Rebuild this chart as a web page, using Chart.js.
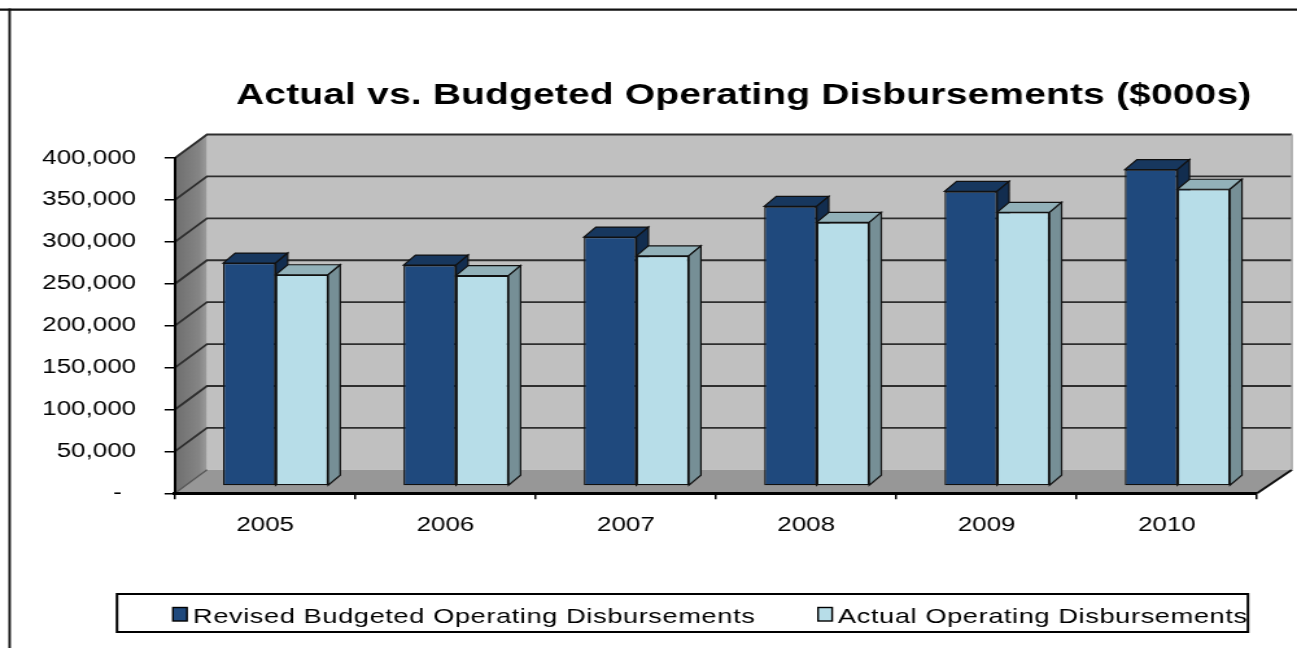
<!DOCTYPE html>
<html>
<head>
<meta charset="utf-8">
<script src="https://cdn.jsdelivr.net/npm/chart.js@4.4.1/dist/chart.umd.min.js"></script>
<style>
  html, body { margin: 0; padding: 0; background: #ffffff; overflow: hidden; }
  #chart { display: block; }
</style>
</head>
<body>
<canvas id="chart" width="1000" height="648" style="width:1297px;height:648px;"></canvas>
<script>
// ---- data ----
const categories = ['2005', '2006', '2007', '2008', '2009', '2010'];
const budgetedValues = [266000, 263500, 297000, 333500, 351500, 377500];
const actualValues = [252000, 251000, 274500, 314400, 326500, 354000];
const seriesLabels = ['Revised Budgeted Operating Disbursements', 'Actual Operating Disbursements'];
const chartTitle = 'Actual vs. Budgeted Operating Disbursements ($000s)';
const yMin = 0, yMax = 400000, yStep = 50000;

// ---- look ----
const FONT = "'Liberation Sans', Arial, Helvetica, sans-serif";
const frontColors = ['#1f497d', '#b7dde8'];
const topColors = ['#17375e', '#92b1b9'];
const sideColors = ['#122d4f', '#768f96'];

// depth geometry (canvas units; the canvas is widened to 1297px on screen)
const WALL_DX_LEFT = 24.7, WALL_DX_RIGHT = 26.9, WALL_DY = -23.5;
const BAR_SHIFT_X = 8.1, BAR_SHIFT_Y = -7.3;
const BAR_DX = 9.3, BAR_DY = -10;

function poly(ctx, pts, fill, stroke, lw) {
  ctx.beginPath();
  ctx.moveTo(pts[0][0], pts[0][1]);
  for (let i = 1; i < pts.length; i++) ctx.lineTo(pts[i][0], pts[i][1]);
  ctx.closePath();
  if (fill) { ctx.fillStyle = fill; ctx.fill(); }
  if (stroke) { ctx.strokeStyle = stroke; ctx.lineWidth = lw || 1; ctx.stroke(); }
}

const depthPlugin = {
  id: 'depth3d',
  beforeDraw(chart) {
    const ctx = chart.ctx;
    const a = chart.chartArea;
    const ys = chart.scales.y;
    const L = a.left, R = a.right, T = a.top, B = a.bottom;
    const bl = L + WALL_DX_LEFT, br = R + WALL_DX_RIGHT;
    ctx.save();

    // outer frame
    ctx.strokeStyle = '#111';
    ctx.lineWidth = 2.4;
    ctx.beginPath(); ctx.moveTo(0, 9.6); ctx.lineTo(1000, 9.6); ctx.stroke();
    ctx.lineWidth = 1.9;
    ctx.beginPath(); ctx.moveTo(7.4, 8.4); ctx.lineTo(7.4, 648); ctx.stroke();

    // back wall
    poly(ctx, [[bl, T + WALL_DY], [br, T + WALL_DY], [br, B + WALL_DY], [bl, B + WALL_DY]], '#c0c0c0');
    // floor
    poly(ctx, [[L, B], [R, B], [br, B + WALL_DY], [bl, B + WALL_DY]], '#979797');
    // side wall
    const g = ctx.createLinearGradient(L, 0, bl, 0);
    g.addColorStop(0, '#6e6e6e');
    g.addColorStop(0.75, '#858585');
    g.addColorStop(1, '#9c9c9c');
    poly(ctx, [[L, T], [bl, T + WALL_DY], [bl, B + WALL_DY], [L, B]], g);

    // gridlines across side wall and back wall
    ctx.lineCap = 'butt';
    for (let v = yMin + yStep; v <= yMax; v += yStep) {
      const y = ys.getPixelForValue(v);
      ctx.strokeStyle = '#2e2e2e';
      ctx.lineWidth = 1.8;
      ctx.beginPath();
      ctx.moveTo(L, y); ctx.lineTo(bl, y + WALL_DY); ctx.lineTo(br, y + WALL_DY);
      ctx.stroke();
    }
    // floor edges
    ctx.strokeStyle = '#555';
    ctx.lineWidth = 1.2;
    ctx.beginPath(); ctx.moveTo(L, B); ctx.lineTo(bl, B + WALL_DY); ctx.stroke();
    ctx.strokeStyle = '#111';
    ctx.lineWidth = 2;
    ctx.beginPath(); ctx.moveTo(R, B); ctx.lineTo(br, B + WALL_DY); ctx.stroke();
    // back wall right edge
    ctx.strokeStyle = '#a8a8a8';
    ctx.lineWidth = 1.5;
    ctx.beginPath(); ctx.moveTo(br, T + WALL_DY); ctx.lineTo(br, B + WALL_DY); ctx.stroke();
    ctx.restore();
  },
  beforeDatasetDraw() {
    // bars are painted together below so the clusters overlap correctly
    return false;
  },
  afterDatasetsDraw(chart) {
    const ctx = chart.ctx;
    const metas = [chart.getDatasetMeta(0), chart.getDatasetMeta(1)];
    ctx.save();
    ctx.translate(BAR_SHIFT_X, BAR_SHIFT_Y);
    for (let i = 0; i < categories.length; i++) {
      metas.forEach((meta, d) => {
        const el = meta.data[i];
        el.draw(ctx, chart.chartArea);
        const p = el.getProps(['x', 'y', 'base', 'width'], true);
        const l = p.x - p.width / 2, r = p.x + p.width / 2;
        poly(ctx, [[l, p.y], [r, p.y], [r + BAR_DX, p.y + BAR_DY], [l + BAR_DX, p.y + BAR_DY]], topColors[d], '#111', 1.2);
        poly(ctx, [[r, p.y], [r + BAR_DX, p.y + BAR_DY], [r + BAR_DX, p.base + BAR_DY], [r, p.base]], sideColors[d], '#111', 1.2);
      });
    }
    ctx.restore();
  },
  afterDraw(chart) {
    const ctx = chart.ctx;
    ctx.save();
    // title
    ctx.fillStyle = '#000';
    ctx.font = 'bold 30px ' + FONT;
    ctx.textAlign = 'left';
    ctx.textBaseline = 'alphabetic';
    if ('letterSpacing' in ctx) ctx.letterSpacing = '0.15px';
    ctx.fillText(chartTitle, 182, 104);

    // legend
    ctx.strokeStyle = '#000';
    ctx.lineWidth = 2;
    ctx.strokeRect(90.2, 594, 872, 38);
    ctx.font = '21px ' + FONT;
    if ('letterSpacing' in ctx) ctx.letterSpacing = '0.45px';
    const items = [{ box: 133.3, text: 148.8 }, { box: 630.7, text: 646.1 }];
    chart.data.datasets.forEach((ds, d) => {
      ctx.fillStyle = ds.backgroundColor;
      ctx.fillRect(items[d].box, 607.5, 10.9, 13.5);
      ctx.strokeStyle = '#000';
      ctx.lineWidth = 1.4;
      ctx.strokeRect(items[d].box, 607.5, 10.9, 13.5);
      ctx.fillStyle = '#000';
      ctx.fillText(ds.label, items[d].text, 622.5);
    });
    ctx.restore();
  }
};

const canvasEl = document.getElementById('chart');
new Chart(canvasEl, {
  type: 'bar',
  data: {
    labels: categories,
    datasets: [
      { label: seriesLabels[0], data: budgetedValues, backgroundColor: frontColors[0] },
      { label: seriesLabels[1], data: actualValues, backgroundColor: frontColors[1] }
    ]
  },
  options: {
    responsive: false,
    devicePixelRatio: 1,
    animation: false,
    events: [],
    layout: { padding: { top: 158, right: 30.8, bottom: 94.7, left: 0 } },
    datasets: {
      bar: {
        categoryPercentage: 0.5825,
        barPercentage: 1.0,
        borderColor: '#111',
        borderWidth: 1.3,
        borderSkipped: false,
        clip: false
      }
    },
    plugins: {
      legend: { display: false },
      title: { display: false },
      tooltip: { enabled: false }
    },
    scales: {
      x: {
        afterFit(scale) { scale.height = 60; },
        grid: {
          offset: true,
          drawOnChartArea: false,
          drawTicks: true,
          tickLength: 6,
          color: '#000',
          lineWidth: 1.5
        },
        border: { display: true, color: '#000', width: 3 },
        ticks: { color: '#000', font: { family: FONT, size: 20 }, padding: 14, maxRotation: 0 }
      },
      y: {
        min: yMin,
        max: yMax,
        afterFit(scale) { scale.width = 134.9; },
        grid: {
          drawOnChartArea: false,
          drawTicks: true,
          tickLength: 8,
          color: '#000',
          lineWidth: 1.5
        },
        border: { display: true, color: '#000', width: 2 },
        ticks: {
          stepSize: yStep,
          color: '#000',
          font: { family: FONT, size: 20 },
          padding: 22,
          callback: (v) => v === 0 ? '-  ' : Number(v).toLocaleString('en-US')
        }
      }
    }
  },
  plugins: [depthPlugin]
});
// widen the 1000px drawing to the full page width
canvasEl.style.width = '1297px';
canvasEl.style.height = '648px';
</script>
</body>
</html>
